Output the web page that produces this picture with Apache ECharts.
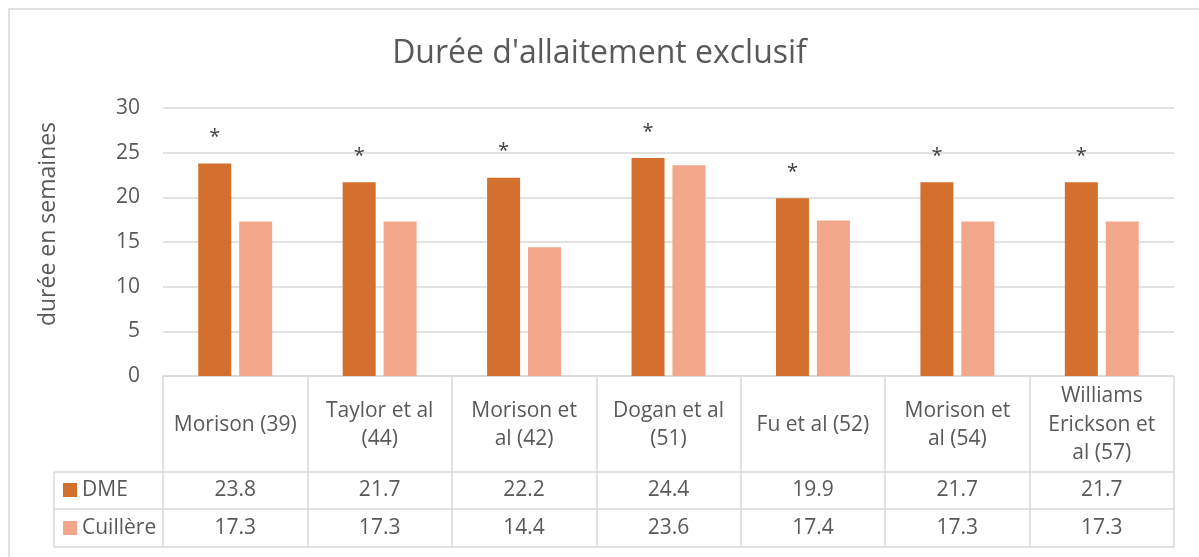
<!DOCTYPE html>
<html>
<head>
<meta charset="utf-8">
<script src="https://cdn.jsdelivr.net/npm/echarts@6/dist/echarts.min.js"></script>
<style>html,body{margin:0;padding:0;background:#fff;}#c{width:1199px;height:557px;}</style>
</head>
<body>
<div id="c"></div>
<script>
const categories = ['Morison (39)', 'Taylor et al\n(44)', 'Morison et\nal (42)', 'Dogan et al\n(51)', 'Fu et al (52)', 'Morison et\nal (54)', 'Williams\nErickson et\nal (57)'];
const dme = [23.8, 21.7, 22.2, 24.4, 19.9, 21.7, 21.7];
const cuillere = [17.3, 17.3, 14.4, 23.6, 17.4, 17.3, 17.3];
const significance = ['*', '*', '*', '*', '*', '*', '*'];
const yTicks = [0, 5, 10, 15, 20, 25, 30];

const FONT = 'Open Sans';
const TXT = '#595959';
const LINE = '#d9d9d9';

const chart = echarts.init(document.getElementById('c'));
const lineStyle = { color: LINE, width: 1.5 };
const tableAxis = (data, offset, margin, showLabel) => ({
  type: 'category', position: 'bottom', data: data, offset: offset,
  axisLine: { show: true, lineStyle: lineStyle },
  axisTick: { show: false },
  axisLabel: { show: showLabel, interval: 0, margin: margin, verticalAlign: 'middle', fontSize: 21, color: TXT, fontFamily: FONT },
  splitLine: { show: false }
});

chart.setOption({
  animation: false,
  title: {
    text: "Durée d'allaitement exclusif", left: 'center', top: 33,
    textStyle: { fontSize: 32, fontWeight: 'normal', color: TXT, fontFamily: FONT }
  },
  legend: {
    orient: 'vertical', left: 63, top: 479.5, padding: 0, itemWidth: 14, itemHeight: 14, itemGap: 17,
    icon: 'rect',
    textStyle: { fontSize: 21, color: TXT, fontFamily: FONT, lineHeight: 21 },
    data: ['DME', 'Cuillère']
  },
  grid: { left: 163, right: 25, top: 108, bottom: 181 },
  xAxis: [
    {
      type: 'category', data: categories,
      axisLine: { show: true, lineStyle: lineStyle },
      axisTick: { show: true, length: 171, interval: 0, lineStyle: lineStyle },
      axisLabel: { interval: 0, margin: 49, verticalAlign: 'middle', lineHeight: 28.5, fontSize: 21, color: TXT, fontFamily: FONT },
      splitLine: { show: false }
    },
    tableAxis(dme.map(v => v.toFixed(1)), 96, 18.5, true),
    tableAxis(cuillere.map(v => v.toFixed(1)), 133, 19, true),
    tableAxis(categories, 171, 0, false)
  ],
  yAxis: {
    type: 'value', min: 0, max: 30, interval: 5,
    axisLine: { show: false }, axisTick: { show: false },
    axisLabel: { margin: 23, fontSize: 21, color: TXT, fontFamily: FONT,
      formatter: v => yTicks.includes(v) ? String(v) : '' },
    splitLine: { lineStyle: lineStyle }
  },
  series: [
    {
      name: 'DME', type: 'bar', data: dme, barWidth: 33, barGap: '24%',
      itemStyle: { color: '#D4702D' },
      label: { show: true, position: 'top', distance: 16, formatter: p => significance[p.dataIndex],
        fontSize: 20, color: '#404040', fontFamily: FONT }
    },
    {
      name: 'Cuillère', type: 'bar', data: cuillere, barWidth: 33,
      itemStyle: { color: '#F2A78A' }
    }
  ],
  graphic: [
    { type: 'rect', shape: { x: 9, y: 9, width: 1400, height: 700 }, style: { fill: 'none', stroke: LINE, lineWidth: 1.5 }, silent: true },
    { type: 'text', x: 48, y: 224, rotation: Math.PI / 2,
      style: { text: 'durée en semaines', fontSize: 23, fill: TXT, fontFamily: FONT, align: 'center', verticalAlign: 'middle' } },
    { type: 'line', shape: { x1: 54, y1: 472, x2: 163, y2: 472 }, style: { stroke: LINE, lineWidth: 1.5 } },
    { type: 'line', shape: { x1: 54, y1: 509, x2: 163, y2: 509 }, style: { stroke: LINE, lineWidth: 1.5 } },
    { type: 'line', shape: { x1: 54, y1: 547, x2: 163, y2: 547 }, style: { stroke: LINE, lineWidth: 1.5 } },
    { type: 'line', shape: { x1: 54, y1: 472, x2: 54, y2: 547 }, style: { stroke: LINE, lineWidth: 1.5 } }
  ]
});
</script>
</body>
</html>
